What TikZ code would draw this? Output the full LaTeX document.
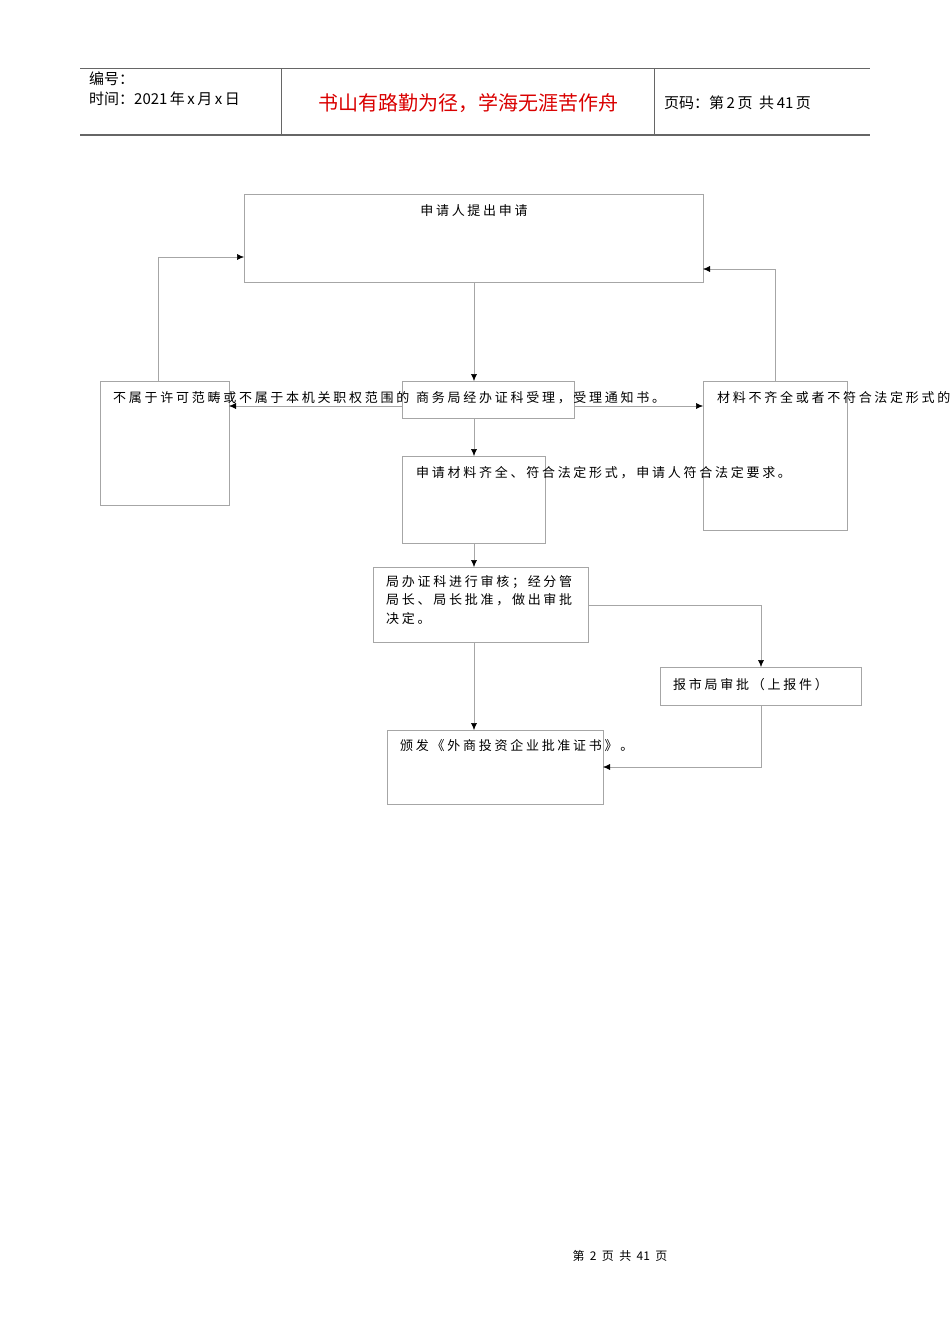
\documentclass[tikz,border=0pt]{standalone}
\usepackage{fontspec}
\setmainfont{Noto Sans CJK SC}
\newfontfamily\spacedcjk[LetterSpace=21]{Noto Sans CJK SC}
\usetikzlibrary{arrows.meta}
\begin{document}
\begin{tikzpicture}[x=1pt,y=-1pt,
  bx/.style={draw=gray!70,line width=0.5pt},
  tx/.style={anchor=west,font=\spacedcjk\fontsize{13}{15}\selectfont,inner sep=0pt},
  ar/.style={draw=gray!70,line width=0.5pt,-{Latex[length=7pt,width=6pt,color=black]}}]
\useasboundingbox (0,0) rectangle (950,1344);
% header
\draw[gray!80!black,line width=0.8pt] (80,68) -- (870,68);
\draw[gray!80!black,line width=1.5pt] (80,135) -- (870,135);
\draw[gray!80!black,line width=0.8pt] (281,68) -- (281,135) (654,68) -- (654,135);
\node[anchor=west,inner sep=0pt,font=\fontsize{15}{17}\selectfont] (h1) at (89,79) {编号：};
\node[anchor=west,inner sep=0pt,font=\fontsize{15}{17}\selectfont] (h2) at (89,99) {时间：2021\,年\,x\,月\,x\,日};
\node[anchor=center,inner sep=0pt,text=red!85!black,font=\fontsize{20}{22}\selectfont] (h3) at (468,103) {书山有路勤为径，学海无涯苦作舟};
\node[anchor=west,inner sep=0pt,font=\fontsize{15}{17}\selectfont] (h4) at (664,103) {页码：第\,2\,页\ \ 共\,41\,页};
% boxes
\draw[bx] (244,194) rectangle (703,282);
\node[tx,anchor=center] (ta) at (474,211) {申请人提出申请};
\draw[bx] (402,381) rectangle (574,418);
\draw[bx] (100,381) rectangle (229,505);
\draw[bx] (703,381) rectangle (847,530);
\draw[bx] (402,456) rectangle (545,543);
\draw[bx] (373,567) rectangle (588,642);
\draw[bx] (660,667) rectangle (861,705);
\draw[bx] (387,730) rectangle (603,804);
% texts
\node[tx] (tl) at (113,398) {不属于许可范畴或不属于本机关职权范围的};
\node[tx] (tb) at (416,398) {商务局经办证科受理，受理通知书。};
\begin{scope}
\clip (0,0) rectangle (950,1344);
\node[tx] (tr) at (717,398) {材料不齐全或者不符合法定形式的};
\end{scope}
\node[tx] (tc) at (416,473) {申请材料齐全、符合法定形式，申请人符合法定要求。};
\node[tx,align=left,anchor=north west,font=\spacedcjk\fontsize{13}{18.5}\selectfont] (td) at (386,575) {局办证科进行审核；经分管\\局长、局长批准，做出审批\\决定。};
\node[tx] (te) at (673,685) {报市局审批（上报件）};
\node[tx] (tf) at (400,746) {颁发《外商投资企业批准证书》。};
% arrows
\draw[ar] (474,282) -- (474,381);
\draw[ar] (402,406) -- (229,406);
\draw[ar] (574,406) -- (703,406);
\draw[ar] (158,381) -- (158,257) -- (244,257);
\draw[ar] (775,381) -- (775,269) -- (703,269);
\draw[ar] (474,418) -- (474,456);
\draw[ar] (474,543) -- (474,567);
\draw[ar] (588,605) -- (761,605) -- (761,667);
\draw[ar] (474,642) -- (474,730);
\draw[ar] (761,705) -- (761,767) -- (603,767);
% footer
\node[inner sep=0pt,font=\fontsize{12}{14}\selectfont] (ft) at (620,1256) {第\ \ 2\ \ 页\ \ 共\ \ 41\ \ 页};
\end{tikzpicture}
\end{document}
